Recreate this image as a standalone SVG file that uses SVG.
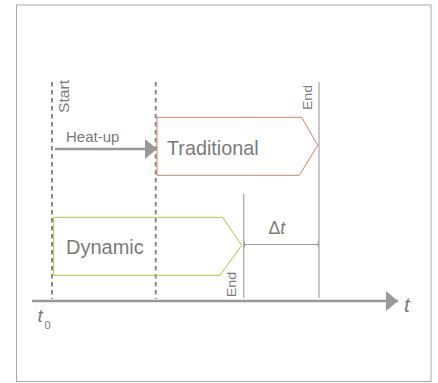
<svg xmlns="http://www.w3.org/2000/svg" width="438" height="383" viewBox="0 0 438 383">
<style>
text{font-family:"Liberation Sans",Arial,sans-serif;fill:#7a7a7a}
.dash{stroke:#8a8a8a;stroke-width:2;stroke-dasharray:4.5,3.5;fill:none}
.thin{stroke:#aaa;stroke-width:1.3;fill:none}
.axis{stroke:#999;stroke-width:2.6;fill:none}
</style>
<defs>
<marker id="ah" viewBox="0 0 12 20" refX="12" refY="10" markerWidth="12" markerHeight="20" markerUnits="userSpaceOnUse" orient="auto">
<path d="M0,0 L12,10 L0,20 Z" fill="#999"/>
</marker>
</defs>
<rect x="16.5" y="5" width="414.5" height="376.5" fill="#fff" stroke="#aaa" stroke-width="1"/>
<g id="connectors">
<line class="dash" x1="52" y1="82" x2="52" y2="299"/>
<line class="dash" x1="155.7" y1="82" x2="155.7" y2="299"/>
<line class="thin" x1="319" y1="82" x2="319" y2="298"/>
<line class="thin" x1="243.7" y1="194" x2="243.7" y2="298"/>
<line x1="243.7" y1="244.5" x2="319" y2="244.5" stroke="#999" stroke-width="1"/>
<line x1="244.5" y1="242" x2="244.5" y2="247" stroke="#999" stroke-width="1"/>
<line x1="318.2" y1="242" x2="318.2" y2="247" stroke="#999" stroke-width="1"/>
<line class="axis" x1="32" y1="301" x2="398" y2="301" marker-end="url(#ah)"/>
<line x1="55" y1="149" x2="157" y2="149" stroke="#999" stroke-width="2.5" marker-end="url(#ah)"/>
</g>
<g id="traditional">
<polygon points="157,117.3 301.7,117.3 317.7,145.3 299.3,175.3 157,175.3" fill="#fff" stroke="#d2826e" stroke-width="1"/>
<text x="167" y="155" font-size="19.8">Traditional</text>
</g>
<g id="dynamic">
<polygon points="53.7,217.3 222.7,217.3 241.7,245.3 220,275.3 53.7,275.3" fill="none" stroke="#a9cc3e" stroke-width="1"/>
<text x="66" y="254" font-size="20">Dynamic</text>
</g>
<g id="labels">
<text x="66" y="141.5" font-size="15">Heat-up</text>
<text transform="translate(69,113) rotate(-90)" font-size="15.5" textLength="33" lengthAdjust="spacingAndGlyphs">Start</text>
<text transform="translate(311.7,110) rotate(-90)" font-size="12" textLength="25" lengthAdjust="spacingAndGlyphs">End</text>
<text transform="translate(236,297.3) rotate(-90)" font-size="12" textLength="25.5" lengthAdjust="spacingAndGlyphs">End</text>
<text x="268.5" y="234" font-size="17.5">Δ<tspan font-style="italic">t</tspan></text>
<text x="404" y="311.7" font-size="21" font-style="italic">t</text>
<text x="37.5" y="322" font-size="19" font-style="italic">t</text>
<text x="44.5" y="329" font-size="11">0</text>
</g>
</svg>
